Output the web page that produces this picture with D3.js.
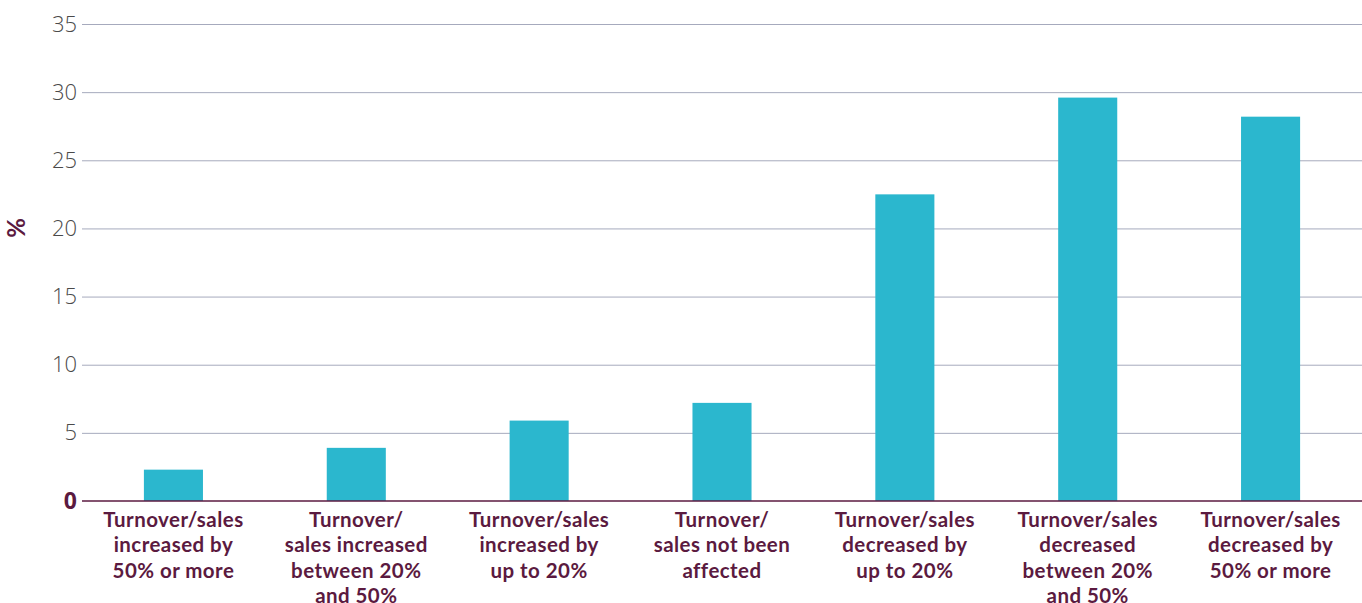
<!DOCTYPE html>
<html>
<head>
<meta charset="utf-8">
<script src="https://cdn.jsdelivr.net/npm/d3@7"></script>
<style>
  html, body { margin: 0; padding: 0; background: #fff; }
  svg { display: block; }
</style>
</head>
<body>
<svg id="chart" width="1362" height="603"></svg>
<script>
const categories = [
  "Turnover/sales\nincreased by\n50% or more",
  "Turnover/\nsales increased\nbetween 20%\nand 50%",
  "Turnover/sales\nincreased by\nup to 20%",
  "Turnover/\nsales not been\naffected",
  "Turnover/sales\ndecreased by\nup to 20%",
  "Turnover/sales\ndecreased\nbetween 20%\nand 50%",
  "Turnover/sales\ndecreased by\n50% or more"
];
const values = [2.3, 3.9, 5.9, 7.2, 22.5, 29.6, 28.2];
const yTicks = [0, 5, 10, 15, 20, 25, 30, 35];
const yLabel = "%";

const svg = d3.select("#chart");
const margin = { left: 82, right: 0, top: 24, bottom: 102 };
const W = 1362, H = 603;

const x = d3.scaleBand()
  .domain(d3.range(categories.length))
  .range([margin.left, W - margin.right])
  .paddingInner(0.677)
  .paddingOuter(0.3385);

const y = d3.scaleLinear()
  .domain([0, 35])
  .range([H - margin.bottom, margin.top]);

// gridlines
const yAxis = d3.axisLeft(y)
  .tickValues(yTicks)
  .tickSize(-(W - margin.left - margin.right))
  .tickPadding(6)
  .tickFormat(d3.format("d"));

const gy = svg.append("g")
  .attr("transform", `translate(${margin.left},0)`)
  .call(yAxis);
gy.select(".domain").remove();
gy.selectAll(".tick line")
  .attr("stroke", "#a6aabd")
  .attr("stroke-width", 1);
gy.selectAll(".tick text")
  .attr("x", -5)
  .attr("fill", "#4a4a4a")
  .style("font-family", "'Open Sans', sans-serif")
  .style("font-size", "22px")
  .style("font-weight", 350);
gy.selectAll(".tick").filter(d => d === 0).select("text")
  .attr("fill", "#5b1a40")
  .style("font-weight", 700)
  .style("font-size", "23px");
gy.selectAll(".tick").filter(d => d === 0).select("line").remove();

// bars
svg.append("g").selectAll("rect")
  .data(values)
  .join("rect")
  .attr("x", (d, i) => x(i))
  .attr("width", x.bandwidth())
  .attr("y", d => y(d))
  .attr("height", d => y(0) - y(d))
  .attr("fill", "#2bb7ce");

// baseline
svg.append("line")
  .attr("x1", margin.left)
  .attr("x2", W - margin.right)
  .attr("y1", y(0))
  .attr("y2", y(0))
  .attr("stroke", "#5b1a40")
  .attr("stroke-width", 1.5);

// category labels
const labels = svg.append("g").selectAll("text")
  .data(categories)
  .join("text")
  .attr("x", (d, i) => x(i) + x.bandwidth() / 2)
  .attr("y", y(0) + 26)
  .attr("text-anchor", "middle")
  .attr("fill", "#5b1a40")
  .style("font-family", "Lato, sans-serif")
  .style("font-size", "20.5px")
  .style("letter-spacing", "0.45px")
  .style("font-weight", 700);
labels.each(function(d) {
  const t = d3.select(this);
  d.split("\n").forEach((line, j) => {
    t.append("tspan")
      .attr("x", t.attr("x"))
      .attr("dy", j === 0 ? 0 : 25.3)
      .text(line);
  });
});

// y label
svg.append("text")
  .attr("transform", `translate(25, 228) rotate(-90)`)
  .attr("text-anchor", "middle")
  .attr("fill", "#5b1a40")
  .style("font-family", "Lato, sans-serif")
  .style("font-size", "24px")
  .style("font-weight", 700)
  .text(yLabel);
</script>
</body>
</html>
